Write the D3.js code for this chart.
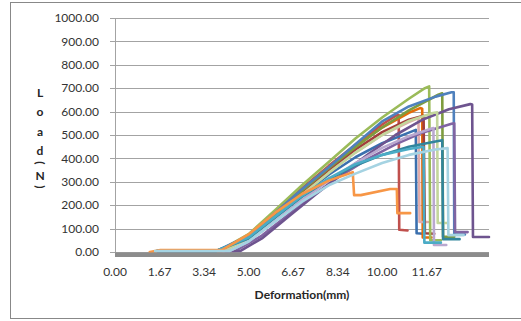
<!DOCTYPE html>
<html lang="en">
<head>
    <meta charset="UTF-8">
    <title>Load vs Deformation</title>
    <style>
        body { margin: 0; background: #fff; }
        svg { display: block; font-family: Lato, "Liberation Sans", sans-serif; }
        .grid line { stroke: #a3a3a3; stroke-width: 1; }
        .tick-label { font-size: 12px; fill: #333; }
        .axis-title { font-size: 12px; font-weight: bold; fill: #262626; }
        .series { fill: none; stroke-width: 2.6; stroke-linejoin: round; stroke-linecap: round; }
    </style>
</head>
<body>
    <svg id="chart" width="521" height="321"></svg>

    <script src="https://d3js.org/d3.v7.min.js"></script>
    <script>
        // tick labels
        var yTicks = [0, 100, 200, 300, 400, 500, 600, 700, 800, 900, 1000];
        var xTicks = [0, 1.67, 3.34, 5.00, 6.67, 8.34, 10.00, 11.67];

        var sRed = [[1.6,5],[3.9,5],[5,70],[6,170],[7,272],[8,368],[9,458],[10,545],[10.5,582],[10.62,585],[10.64,95],[10.95,92]];
        var sBlueDark = [[1.6,4],[3.8,5],[5,62],[6,155],[7,245],[8,330],[9,405],[10,465],[11,510],[11.26,522],[11.29,80],[11.55,78]];
        var sOrangeDark = [[1.6,5],[4.0,5],[5,66],[6,168],[7,268],[8,362],[9,452],[10,532],[11,595],[11.42,615],[11.5,612],[11.52,62],[11.85,62]];
        var sPink = [[1.6,5],[4.0,5],[5,60],[6,155],[7,250],[8,340],[9,425],[10,500],[11,555],[11.36,572],[11.4,128],[11.72,128]];
        var sRedDark = [[1.6,4],[4.0,5],[5,62],[6,160],[7,258],[8,350],[9,438],[10,512],[11,565],[11.55,582],[11.6,80],[11.95,78]];
        var sGreen = [[1.6,5],[3.9,5],[5,76],[6,180],[7,285],[8,385],[9,485],[10,575],[11,655],[11.6,700],[11.76,708],[11.8,50],[12.2,50]];
        var sOlive = [[1.6,5],[4.0,5],[5,65],[6,162],[7,262],[8,358],[9,448],[10,532],[11,605],[12.1,672],[12.25,678],[12.28,65],[12.7,65]];
        var sBlue = [[1.6,5],[3.8,5],[5,70],[6,168],[7,268],[8,362],[9,460],[10,558],[11,622],[12,664],[12.6,683],[12.68,683],[12.7,75],[13.1,75]];
        var sPurple = [[1.6,4],[4.5,5],[5.5,70],[6.5,160],[7.5,250],[8.5,330],[9.5,400],[10.5,460],[11.5,510],[12.6,548],[12.7,550],[12.73,85],[13.2,85]];
        var sPurpleDark = [[1.6,4],[4.7,5],[5.5,58],[6.5,152],[7.5,245],[8.5,335],[9.5,420],[10.5,500],[11.5,565],[12.5,610],[13.3,632],[13.37,630],[13.4,64],[14,64]];
        var sGreenLight = [[1.6,5],[4.1,5],[5,58],[6,150],[7,245],[8,338],[9,425],[10,500],[11,560],[11.9,594],[12.06,597],[12.08,124],[12.45,124]];
        var sPurpleLight = [[1.6,4],[4.3,5],[5,45],[6,132],[7,222],[8,305],[9,380],[10,445],[11,495],[11.85,528],[11.92,530],[11.94,30],[12.4,30]];
        var sTeal = [[1.6,5],[3.8,5],[5,58],[6,148],[7,236],[8,310],[9,370],[10,415],[11,450],[12,472],[12.25,478],[12.28,55],[12.9,55]];
        var sTealLight = [[1.6,5],[3.8,5],[5,62],[6,152],[7,240],[8,315],[9,375],[10,415],[11,440],[11.55,450],[11.58,40],[12.2,40]];
        var sOrange = [[1.3,0],[1.7,8],[4.0,8],[5,75],[6,168],[7,248],[8,305],[8.9,341],[8.95,243],[9.2,243],[10.3,269],[10.55,269],[10.57,166],[11.05,166]];
        var sBlueLight = [[1.5,4],[4.3,5],[5,45],[6,130],[7,215],[8,285],[9,335],[10,380],[11,415],[12,438],[12.45,444],[12.48,72],[13.05,72]];

        // drawing order (later on top) and colours
        var seriesList = [sRed, sBlueDark, sOrangeDark, sPink, sRedDark, sGreen, sOlive, sBlue,
                          sPurple, sPurpleDark, sGreenLight, sPurpleLight, sTeal, sTealLight, sOrange, sBlueLight];
        var colors = ["#C0504D", "#3B70AE", "#E46C0A", "#E0ABAA", "#A23E3B", "#9BBB59", "#7E9C3E", "#4F81BD",
                      "#8064A2", "#6E548F", "#C3D69B", "#B9A8CF", "#31859C", "#4BACC6", "#F79646", "#A5D3E2"];

        var svg = d3.select('#chart');

        // chart frame (right edge falls outside the picture)
        svg.append('rect')
            .attr('x', 10.5).attr('y', 2.5)
            .attr('width', 530).attr('height', 316)
            .attr('fill', 'none').attr('stroke', '#888');

        var x = d3.scaleLinear().domain([0, 14]).range([115, 489]);
        var y = d3.scaleLinear().domain([0, 1000]).range([252, 18]);

        // horizontal gridlines + small ticks left of the axis
        var grid = svg.append('g').attr('class', 'grid');
        grid.selectAll('line')
            .data(yTicks)
            .enter().append('line')
            .attr('x1', 110).attr('x2', 489)
            .attr('y1', function(d) { return Math.round(y(d)) + 0.5; })
            .attr('y2', function(d) { return Math.round(y(d)) + 0.5; });

        // y axis line
        svg.append('line')
            .attr('x1', 115.5).attr('x2', 115.5)
            .attr('y1', y(1000)).attr('y2', y(0))
            .attr('stroke', '#a3a3a3');

        // y tick labels
        svg.append('g').selectAll('text')
            .data(yTicks)
            .enter().append('text')
            .attr('class', 'tick-label')
            .attr('x', 99)
            .attr('y', function(d) { return y(d); })
            .attr('dy', '0.35em')
            .attr('text-anchor', 'end')
            .text(function(d) { return d.toFixed(2); });

        // x tick labels
        svg.append('g').selectAll('text')
            .data(xTicks)
            .enter().append('text')
            .attr('class', 'tick-label')
            .attr('x', function(d) { return x(d); })
            .attr('y', 272)
            .attr('dy', '0.35em')
            .attr('text-anchor', 'middle')
            .text(function(d) { return d.toFixed(2); });

        // the curves
        var line = d3.line()
            .x(function(d) { return x(d[0]); })
            .y(function(d) { return y(d[1]); });

        svg.append('g').selectAll('path')
            .data(seriesList)
            .enter().append('path')
            .attr('class', 'series')
            .attr('stroke', function(d, i) { return colors[i]; })
            .attr('d', line);

        // thick grey floor along the x axis
        svg.append('rect')
            .attr('x', x(0)).attr('y', y(0) + 0.5)
            .attr('width', x(14) - x(0)).attr('height', 4.5)
            .attr('fill', '#8c8c8c');

        // axis titles
        svg.append('text')
            .attr('class', 'axis-title')
            .attr('x', 302).attr('y', 295)
            .attr('dy', '0.35em')
            .attr('text-anchor', 'middle')
            .text('Deformation(mm)');

        // stacked y title "Load(N)"
        var yTitle = [['L', 93, 0], ['o', 112, 0], ['a', 132, 0], ['d', 151, 0], ['(', 163, 90], ['N', 176, 0], [')', 187, 90]];
        svg.append('g').selectAll('text')
            .data(yTitle)
            .enter().append('text')
            .attr('class', 'axis-title')
            .attr('text-anchor', 'middle')
            .attr('dy', '0.35em')
            .attr('transform', function(d) { return 'translate(40,' + d[1] + ') rotate(' + d[2] + ')'; })
            .text(function(d) { return d[0]; });
    </script>
</body>
</html>
